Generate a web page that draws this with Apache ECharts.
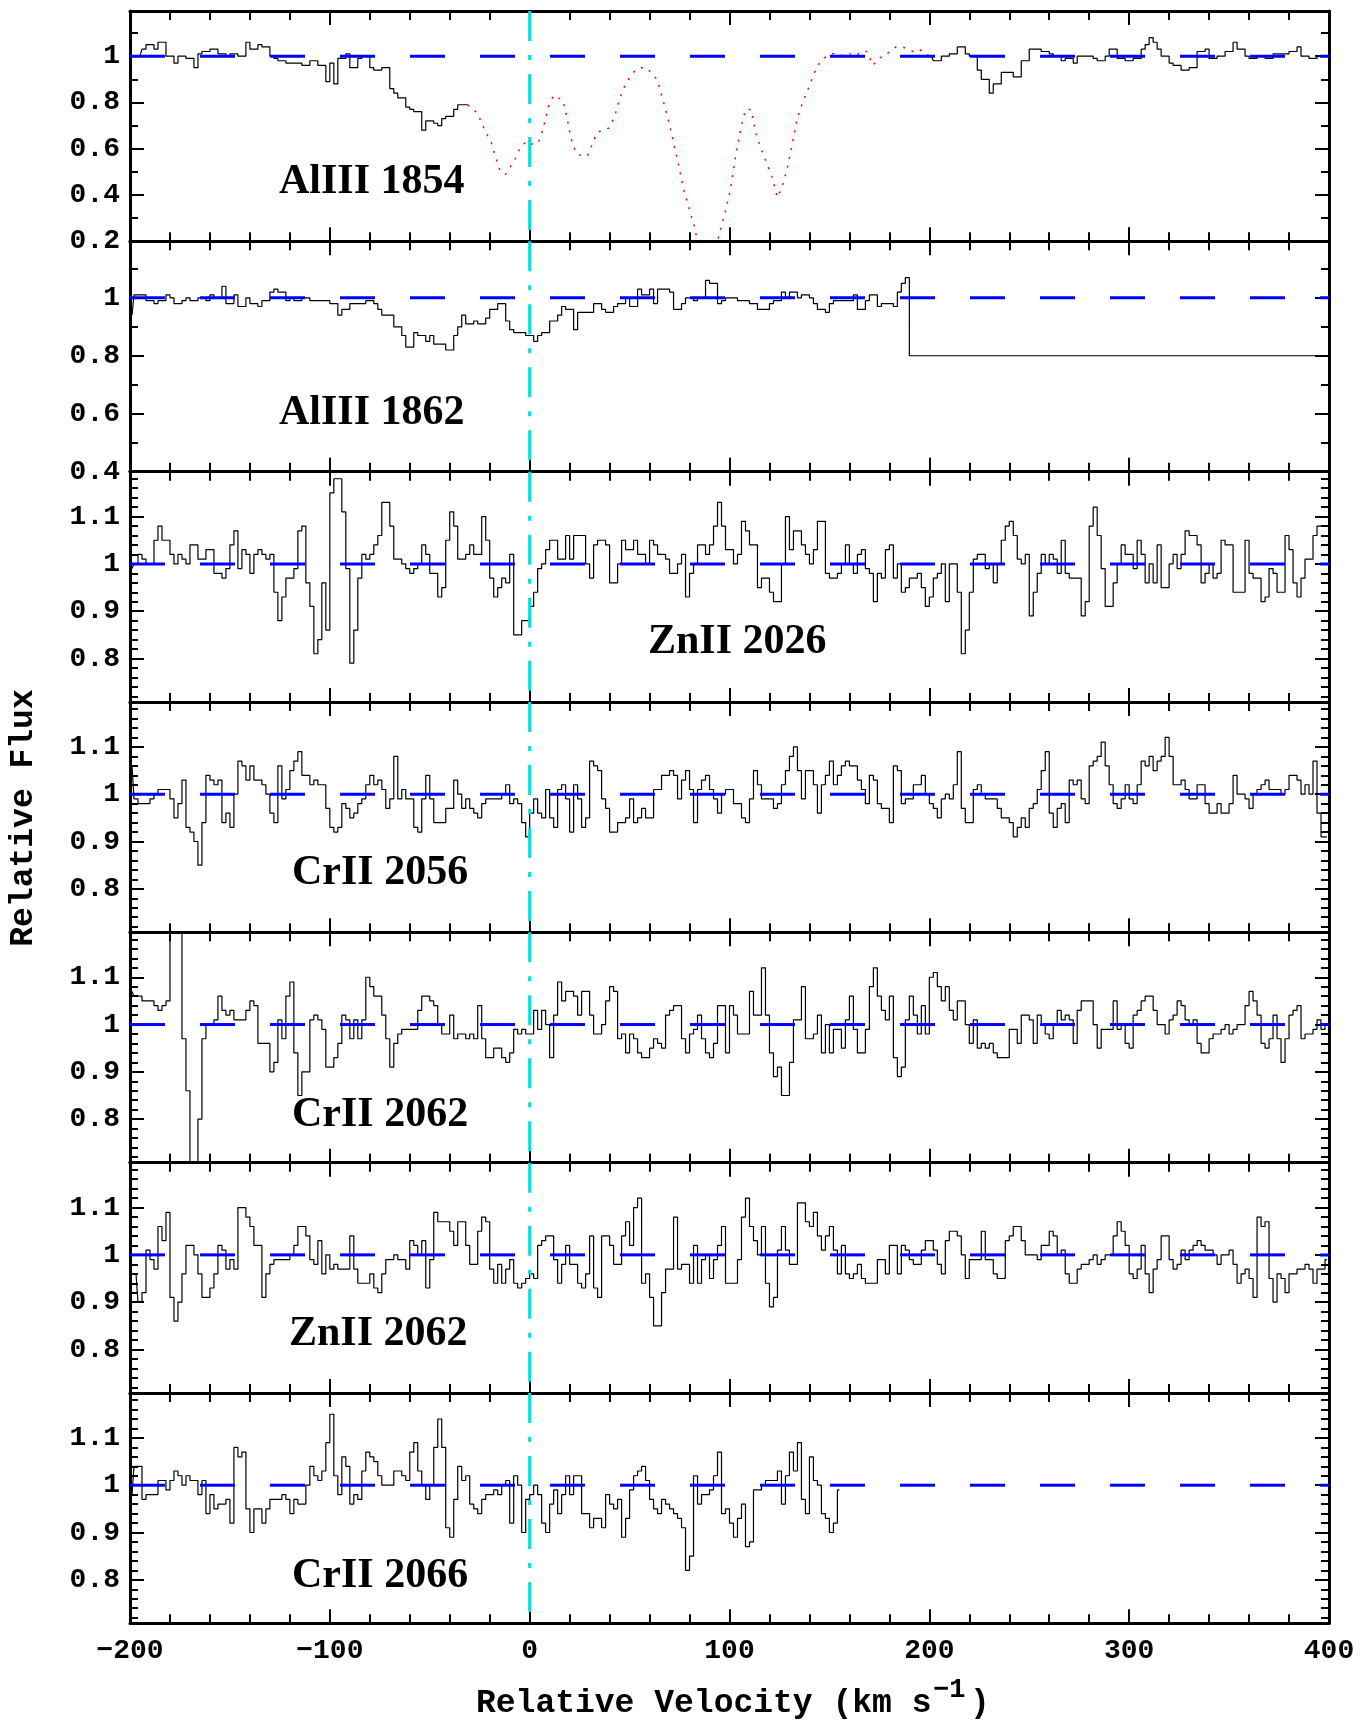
<!DOCTYPE html>
<html><head><meta charset="utf-8">
<script src="https://cdn.jsdelivr.net/npm/echarts@6/dist/echarts.min.js"></script>
<style>html,body{margin:0;padding:0;background:#fff}#c{width:1372px;height:1727px}</style>
</head><body><div id="c"></div>
<script>
// ---- data: relative flux in 2 km/s bins (bin centres start at binStart) ----
const binStart = -199, binWidth = 2;
const panelLabels = ['AlIII 1854','AlIII 1862','ZnII 2026','CrII 2056','CrII 2062','ZnII 2062','CrII 2066'];
const xTicks = [-200,-100,0,100,200,300,400];

const alIII1854Left = [1.00,1.00,1.00,1.03,1.05,1.05,1.03,1.06,1.06,1.00,
 1.00,0.97,1.00,1.00,0.99,0.99,0.95,1.01,1.02,1.02,
 1.03,1.03,1.01,1.01,1.00,1.01,1.01,1.00,1.00,1.06,
 1.03,1.03,1.05,1.04,1.04,1.00,0.99,0.98,0.98,0.97,
 0.97,0.97,0.97,0.96,0.96,0.98,0.98,0.96,0.96,0.89,
 0.97,0.88,0.99,0.99,1.01,0.95,0.95,0.99,1.00,1.00,
 0.95,0.94,0.94,0.95,0.95,0.86,0.84,0.82,0.82,0.78,
 0.77,0.76,0.76,0.68,0.72,0.72,0.71,0.70,0.73,0.74,
 0.74,0.77,0.79,0.79,0.79];
const alIII1854RightStart = 201;
const alIII1854Right = [1.00,0.98,0.98,1.00,1.00,1.01,1.01,1.04,1.04,1.01,
 1.00,1.00,0.94,0.90,0.90,0.84,0.88,0.88,0.93,0.93,
 0.93,0.91,0.91,0.98,0.98,1.03,1.03,1.03,1.02,1.02,
 1.01,1.00,1.00,0.98,0.99,0.99,0.97,1.00,1.00,1.00,
 1.00,0.99,0.98,0.98,1.00,1.03,1.03,0.99,0.99,0.98,
 0.98,0.99,0.99,1.03,1.05,1.08,1.06,1.03,1.00,1.00,
 0.97,0.96,0.96,0.94,0.94,0.95,0.95,1.02,1.02,1.03,
 0.99,0.99,1.00,1.00,1.02,1.02,1.06,1.03,1.03,1.00,
 0.99,0.99,1.00,1.00,0.99,0.99,1.01,1.01,1.01,1.01,
 1.02,1.02,1.04,1.00,1.00,0.99,0.99,1.00,1.00,1.00];
// blended region drawn dotted: [velocity, flux]
const alIII1854Blend = [[-31,0.79],[-27,0.76],[-24.3,0.72],[-22,0.67],[-19.3,0.63],[-16.6,0.55],[-14.6,0.50],[-12,0.49],
 [-7.6,0.55],[-5,0.60],[-1.9,0.63],[0.8,0.62],[3.9,0.62],[5.8,0.66],[7.7,0.72],[9.7,0.79],[12,0.83],[14.3,0.82],
 [16.6,0.81],[18.6,0.74],[20.5,0.65],[23.2,0.58],[25.9,0.57],[29,0.57],[30.9,0.61],[33.6,0.67],[36.6,0.68],
 [39.8,0.69],[42.5,0.74],[45.2,0.82],[47.5,0.87],[50.2,0.91],[52.9,0.94],[56,0.95],[58.3,0.95],[60.6,0.93],
 [63.7,0.90],[66.4,0.82],[69.5,0.72],[72.2,0.62],[74.5,0.53],[77.2,0.42],[79.9,0.34],[82.2,0.27],[83.8,0.21],
 [86.8,0.15],[90.7,0.15],[94.6,0.22],[97.7,0.32],[100.4,0.42],[103.1,0.57],[106.2,0.71],[108.1,0.77],[110.8,0.77],
 [113.1,0.67],[115.8,0.60],[118.5,0.54],[121.6,0.47],[123.9,0.39],[126.2,0.43],[129.3,0.53],[131.6,0.63],
 [133.9,0.73],[136.2,0.79],[138.5,0.84],[140.8,0.89],[143.5,0.95],[145.9,0.98],[148.6,1.00],[151.7,1.01],
 [154.4,1.01],[157.1,1.00],[160.2,1.01],[162.9,1.00],[166,1.02],[168.7,1.02],[171.8,0.96],[174.5,0.99],
 [177.2,1.00],[180.3,1.02],[183.4,1.04],[186.5,1.04],[189.2,1.03],[191.9,1.02],[195,1.03],[197.7,1.01],[200.8,1.00]];

const alIII1862 = [0.94,1.01,1.01,1.01,0.99,0.99,0.98,0.99,0.99,1.01,
 1.00,0.98,0.98,0.99,1.00,0.99,0.99,1.00,1.00,0.99,
 1.01,1.00,1.00,1.04,0.98,0.98,1.01,0.97,0.97,1.00,
 0.98,0.98,0.97,0.99,0.99,1.02,1.03,1.02,1.02,0.99,
 1.00,0.99,0.99,1.00,1.00,0.99,0.99,0.99,0.99,0.99,
 0.98,0.98,0.94,0.96,0.96,0.98,0.98,0.98,0.98,0.99,
 0.99,0.98,0.96,0.94,0.94,0.94,0.90,0.90,0.87,0.83,
 0.83,0.88,0.87,0.87,0.85,0.87,0.84,0.84,0.84,0.82,
 0.82,0.87,0.90,0.94,0.91,0.91,0.92,0.91,0.91,0.93,
 0.96,0.96,0.98,0.98,0.92,0.89,0.88,0.88,0.88,0.87,
 0.87,0.85,0.87,0.88,0.88,0.92,0.92,0.94,0.97,0.96,
 0.96,0.89,0.95,0.95,0.95,0.95,0.98,0.98,0.96,0.95,
 0.95,0.97,0.98,0.98,1.00,0.97,0.97,1.03,1.01,1.01,
 1.03,0.98,1.03,1.03,1.03,1.02,0.96,0.96,0.98,1.00,
 1.00,0.99,1.00,1.00,1.06,1.05,1.05,0.98,0.99,1.00,
 1.00,1.00,0.99,0.99,0.99,0.98,0.98,0.96,0.96,0.96,
 0.98,0.99,0.99,1.02,1.00,1.02,1.02,1.00,1.01,1.01,
 1.00,0.98,0.96,0.96,0.95,0.98,0.99,0.99,0.99,0.99,
 0.99,1.01,0.96,0.96,0.99,1.01,1.01,0.97,0.98,0.98,
 0.98,0.97,1.02,1.05,1.07];
const alIII1862Tail = [[191,0.80],[400,0.80]];

const znII2026 = [0.99,1.00,1.02,1.01,1.00,1.00,1.05,1.08,1.05,1.05,
 1.02,1.00,1.02,1.01,1.00,1.04,1.04,1.01,1.01,1.03,
 1.03,0.98,0.98,0.97,0.99,1.04,1.07,0.99,1.03,1.02,
 0.98,1.02,1.03,1.02,1.01,1.02,0.94,0.88,0.93,0.97,
 0.97,0.99,1.07,1.08,0.96,0.91,0.81,0.84,0.96,0.86,
 1.15,1.18,1.18,1.11,0.99,0.79,0.86,0.97,1.02,1.01,
 1.02,1.04,1.06,1.13,1.13,1.08,1.01,1.01,1.00,0.99,
 0.98,0.99,1.00,1.04,1.02,0.98,0.98,0.93,0.95,1.05,
 1.11,1.08,1.01,1.01,1.02,1.04,1.02,1.02,1.10,1.05,
 0.97,0.93,0.95,0.97,0.96,1.02,0.85,0.85,0.88,0.88,
 0.91,0.94,0.99,1.00,1.03,1.05,1.05,1.01,1.01,1.06,
 1.01,1.06,1.06,1.06,1.00,0.97,1.04,1.05,1.05,1.04,
 0.96,0.96,1.00,1.05,1.03,1.03,1.05,1.02,1.02,1.00,
 1.05,1.04,1.02,1.02,1.01,0.98,0.98,1.00,1.02,0.93,
 0.98,1.00,1.04,1.04,1.02,1.04,1.08,1.13,1.08,1.03,
 1.03,1.00,1.02,1.09,1.07,1.04,1.04,0.95,0.97,0.97,
 0.94,0.92,0.92,1.00,1.10,1.03,1.07,1.07,1.04,1.02,
 1.00,1.03,1.09,1.09,0.98,0.97,0.97,0.98,1.00,1.04,
 1.00,0.98,1.02,1.03,0.99,0.98,0.92,0.98,0.97,1.03,
 1.04,0.97,1.00,0.94,0.95,0.97,0.97,0.98,0.95,0.91,
 0.93,0.97,0.98,1.00,0.92,1.00,1.00,0.94,0.81,0.86,
 0.94,1.01,1.02,1.02,0.99,1.00,0.96,1.00,1.05,1.08,
 1.09,1.06,1.01,1.00,1.02,0.89,0.94,0.98,1.02,1.00,
 1.02,1.01,0.98,1.05,0.98,0.97,0.97,0.97,0.89,0.92,
 1.08,1.12,1.06,0.99,0.91,0.91,0.96,1.00,1.04,1.02,
 1.02,0.99,1.05,1.02,0.96,1.00,0.96,1.04,0.95,0.95,
 1.00,1.02,0.99,1.02,1.07,1.06,1.06,1.04,0.96,0.98,
 1.00,0.97,0.98,1.05,1.04,1.04,0.94,0.94,0.94,1.05,
 0.98,0.97,0.97,0.92,0.93,0.99,0.98,0.94,0.94,1.06,
 1.03,0.96,0.93,0.97,1.01,1.01,1.06,1.08,1.08,1.08];

const crII2056 = [1.06,0.99,0.98,0.98,0.98,0.99,1.00,1.01,1.01,1.01,
 0.99,0.95,0.98,1.03,0.93,0.92,0.90,0.85,0.94,1.04,
 1.03,1.02,1.03,0.94,0.96,0.93,1.00,1.07,1.06,1.03,
 1.06,1.03,1.03,1.02,1.00,0.96,0.94,1.06,0.99,1.01,
 1.05,1.07,1.09,1.04,1.04,1.02,1.03,1.02,1.02,0.97,
 0.93,0.92,0.93,0.98,0.97,0.95,0.96,0.98,0.99,1.02,
 1.04,1.02,1.03,1.01,0.97,0.99,1.08,0.99,1.01,0.99,
 0.99,0.93,0.92,0.99,1.04,0.99,0.94,0.94,0.94,0.97,
 0.97,1.03,1.00,0.97,0.99,0.97,0.96,0.95,0.98,0.99,
 0.99,0.99,0.99,1.00,1.02,0.98,0.99,0.98,0.94,0.91,
 0.96,0.99,0.96,0.95,1.01,0.95,0.93,1.01,1.02,0.99,
 0.92,1.02,0.99,0.93,0.95,1.07,1.06,1.05,0.99,0.97,
 0.92,0.92,0.94,0.94,0.95,0.99,0.94,0.95,0.97,0.95,
 0.95,1.01,1.01,1.04,1.04,1.05,1.04,0.99,1.03,1.05,
 1.01,0.94,1.01,1.03,1.04,1.01,0.99,0.96,1.00,1.01,
 1.01,0.98,0.98,0.95,0.94,0.99,1.05,1.02,0.99,0.99,
 0.99,0.97,0.98,1.02,1.05,1.08,1.10,1.05,0.99,1.05,
 1.05,1.02,0.96,1.02,1.04,1.07,1.02,1.04,1.06,1.07,
 1.06,1.06,1.03,1.01,0.98,1.04,1.03,0.98,0.97,0.97,
 0.94,1.06,1.05,0.98,0.99,0.99,1.02,1.02,1.04,1.00,
 0.98,0.97,0.95,0.99,1.00,0.99,1.02,1.09,0.97,0.94,
 0.94,1.01,1.02,1.00,0.99,0.99,0.99,0.97,0.95,0.95,
 0.94,0.91,0.93,0.95,0.93,0.97,0.98,1.01,1.05,1.09,
 0.96,0.93,0.97,0.98,0.94,1.03,1.02,1.03,0.99,0.98,
 1.06,1.07,1.08,1.11,1.06,1.02,0.98,0.97,0.99,1.02,
 0.99,0.98,1.02,1.07,1.06,1.08,1.05,1.07,1.08,1.12,
 1.08,1.02,1.02,1.03,1.01,0.99,0.99,1.02,1.02,0.98,
 0.96,0.96,0.98,0.96,0.96,0.98,1.04,1.00,1.00,0.99,
 0.97,1.00,1.01,1.02,1.03,1.01,1.01,1.01,1.00,1.01,
 1.04,1.04,1.03,1.00,1.02,1.00,1.07,0.96,0.91,0.91];

const crII2062 = [1.07,1.06,1.06,1.05,1.05,1.05,1.04,1.03,1.04,1.05,
 1.25,1.25,1.25,0.97,0.86,0.60,0.60,0.80,0.97,1.00,
 1.00,1.01,1.06,1.03,1.02,1.03,1.01,1.01,1.01,1.03,
 1.05,1.04,0.96,0.96,0.96,0.90,0.92,1.01,0.97,1.06,
 1.09,0.94,0.85,0.90,0.90,1.01,1.02,1.01,0.99,0.91,
 0.91,0.93,0.96,1.02,1.01,0.97,1.01,0.97,1.01,1.10,
 1.08,1.06,1.06,1.02,0.97,0.91,0.96,0.98,0.99,0.99,
 0.99,0.99,1.03,1.06,1.06,1.05,1.04,1.00,0.98,0.98,
 1.02,0.97,0.98,0.98,0.97,0.98,0.97,1.04,0.97,0.93,
 0.93,0.95,0.95,0.93,0.92,0.94,0.99,0.98,0.99,0.98,
 0.98,1.03,0.99,1.03,1.00,0.93,1.02,1.09,1.05,1.07,
 1.07,1.06,1.02,1.07,1.07,1.02,0.98,0.98,1.00,1.05,
 1.08,1.07,0.97,0.98,0.94,0.98,0.97,0.94,0.93,0.93,
 0.95,0.97,0.96,0.95,1.02,1.03,1.04,1.04,0.97,0.94,
 0.98,0.99,1.02,0.97,0.94,0.93,0.96,1.04,1.04,0.94,
 1.04,1.02,0.98,0.98,0.98,1.07,1.02,1.02,1.12,1.02,
 0.94,0.89,0.91,0.85,0.85,0.92,1.01,1.01,1.08,0.97,
 0.97,0.98,1.02,0.94,1.00,0.94,0.99,0.99,0.95,1.01,
 1.06,0.99,0.94,0.94,0.99,1.08,1.12,1.06,1.03,1.01,
 1.06,0.93,0.89,0.91,1.01,1.06,1.02,0.98,1.04,0.98,
 1.10,1.11,1.08,1.05,1.08,1.03,1.01,1.05,1.05,1.00,
 0.96,1.01,0.95,0.96,0.95,0.96,0.94,0.93,0.93,0.93,
 0.99,0.99,0.96,1.02,1.02,1.01,0.96,1.02,1.00,0.98,
 0.97,1.00,1.03,1.01,1.02,1.01,0.96,1.03,1.05,1.05,
 1.05,1.00,0.95,0.99,0.99,0.99,1.05,0.99,1.00,0.96,
 0.95,1.02,1.03,1.05,1.06,1.06,1.03,1.00,1.00,0.98,
 1.01,1.02,1.05,1.04,1.01,1.00,1.01,0.96,0.94,0.94,
 0.97,0.98,0.98,0.99,1.00,0.98,0.99,1.00,1.00,1.04,
 1.07,1.05,1.02,0.96,0.95,0.97,1.02,0.97,0.92,0.97,
 1.02,1.03,1.04,0.97,0.98,0.98,0.99,1.01,0.99,1.00];

const znII2062 = [0.96,0.96,0.90,0.92,1.01,0.99,0.97,1.06,1.03,1.09,
 0.91,0.86,0.90,0.96,1.02,1.02,1.00,0.96,0.91,0.91,
 0.93,0.96,1.02,1.01,0.97,0.99,0.97,1.10,1.10,1.08,
 1.06,1.02,1.02,0.91,0.96,0.98,0.99,0.99,0.99,0.99,
 1.00,1.02,1.06,1.06,1.04,0.99,0.98,1.03,0.96,1.00,
 0.97,0.98,0.97,0.97,0.97,1.04,0.97,0.94,0.94,0.94,
 0.96,0.93,0.92,0.96,0.99,0.99,1.00,0.99,0.99,0.97,
 1.03,1.02,1.00,1.03,0.93,0.99,1.09,1.07,1.07,1.07,
 1.05,1.02,1.07,1.07,1.02,0.98,0.98,1.05,1.08,1.07,
 0.97,0.94,0.98,0.94,0.97,0.99,0.94,0.93,0.94,0.95,
 0.96,0.95,1.02,1.03,1.04,1.04,0.99,0.94,0.98,1.02,
 0.98,0.98,0.94,0.93,0.96,1.04,0.93,0.91,1.04,1.04,
 1.02,0.98,0.98,1.04,1.07,1.02,1.10,1.12,0.94,0.96,
 0.91,0.85,0.85,0.92,0.97,0.97,1.08,0.97,0.98,0.98,
 0.94,1.02,0.94,0.99,1.00,0.95,0.99,1.02,1.06,0.94,
 0.94,0.94,0.99,1.08,1.12,1.06,1.03,1.00,1.06,0.94,
 0.89,0.91,1.01,1.06,1.01,0.98,0.98,1.11,1.11,1.07,
 1.06,1.09,1.04,1.01,1.04,1.06,1.01,0.96,1.02,0.96,
 0.95,0.96,0.98,0.95,0.94,0.94,0.94,0.99,0.99,0.96,
 1.02,1.02,0.96,1.02,1.01,0.99,0.98,0.98,1.01,1.03,
 1.03,1.01,0.98,0.96,1.03,1.05,1.05,1.04,1.00,0.95,
 0.99,0.99,0.99,1.05,0.99,0.99,0.96,0.95,0.95,1.03,
 1.04,1.06,1.06,1.03,1.00,1.00,1.00,0.99,1.02,1.02,
 1.05,1.04,1.00,1.01,0.96,0.94,0.94,0.97,0.98,0.98,
 0.99,1.00,0.98,0.99,1.00,1.00,1.04,1.07,1.05,1.02,
 0.96,0.95,0.97,1.02,0.96,0.92,0.97,0.99,1.04,1.04,
 0.99,0.97,0.98,1.01,0.99,1.01,1.02,1.03,1.02,1.01,
 1.01,1.00,0.98,1.00,1.00,1.01,0.98,0.94,0.96,0.97,
 0.95,0.91,1.08,1.06,1.07,0.95,0.90,0.96,0.95,0.92,
 0.96,0.96,0.97,0.97,0.98,0.97,0.94,0.97,0.97,0.99];

const crII2066 = [0.98,1.04,1.04,0.97,0.98,0.98,0.98,1.01,1.01,0.99,
 1.01,1.03,1.02,1.00,1.02,1.01,1.01,0.98,1.01,0.94,
 0.98,0.95,0.96,0.96,0.97,0.92,1.08,1.06,1.07,0.95,
 0.90,0.95,0.95,0.92,0.95,0.97,0.97,0.97,0.98,0.97,
 0.94,0.97,0.96,0.96,1.00,1.04,1.02,1.01,1.03,1.09,
 1.15,1.02,0.98,1.06,1.04,0.96,0.98,0.97,1.03,1.07,
 1.06,1.05,1.02,1.00,1.00,1.00,1.03,1.03,1.02,1.01,
 1.07,1.09,1.03,1.00,0.97,1.00,1.08,1.14,1.08,0.91,
 0.89,0.97,1.04,1.01,1.02,0.96,0.95,0.94,0.97,0.98,
 0.98,0.99,0.98,1.00,1.01,0.92,1.02,1.00,0.90,0.97,
 0.98,1.00,0.98,0.92,0.90,0.96,0.99,0.94,0.98,1.02,
 0.98,1.02,1.02,0.94,0.94,0.91,0.93,0.93,0.91,0.98,
 0.96,0.95,0.97,0.89,0.93,0.99,1.02,1.03,1.04,1.01,
 0.97,0.95,0.94,0.97,0.96,0.95,0.94,0.93,0.91,0.82,
 0.85,1.02,0.96,0.98,0.98,0.99,1.02,1.07,0.94,0.95,
 0.92,0.89,0.93,0.96,0.87,0.88,0.99,0.99,1.00,1.01,
 1.01,1.01,1.03,0.96,1.02,1.07,1.03,1.09,0.97,0.94,
 1.06,1.01,1.00,0.94,0.93,0.90,0.92,0.99];

// ---- chart ----
const TICKFONT = '"Liberation Mono"';
const panels = [
  {min:0.2, max:1.195, major:[0.2,0.4,0.6,0.8,1], minor:[0.3,0.5,0.7,0.9,1.1]},
  {min:0.4, max:1.195, major:[0.4,0.6,0.8,1], minor:[0.5,0.7,0.9,1.1]},
];
const minorFine = [];
for (let k = 0; k < 25; k++) { const t = Math.round((0.72 + 0.02 * k) * 100) / 100; if (Math.round(t * 100) % 10 !== 0) minorFine.push(t); }
for (let p = 2; p < 7; p++) panels.push({min:0.708, max:1.195, major:[0.8,0.9,1,1.1], minor:minorFine});

function toPairs(arr, start) { return arr.map((f, i) => [start + i * binWidth, f]); }
const spectra = [
  null,
  toPairs(alIII1862, binStart).concat(alIII1862Tail),
  toPairs(znII2026, binStart),
  toPairs(crII2056, binStart),
  toPairs(crII2062, binStart),
  toPairs(znII2062, binStart),
  toPairs(crII2066, binStart)
];

const grids = [], xAxes = [], yAxes = [], series = [];
const blk = {color:'#000', width:3};
const tk = {color:'#000', width:2};
panels.forEach((pn, p) => {
  const top = 11 + 230.33 * p;
  grids.push({left:130, top:top, width:1199, height:230.33});
  ['bottom','top'].forEach(pos => {
    xAxes.push({gridIndex:p, type:'value', position:pos, min:-200, max:400, interval:100,
      axisLine:{show:true, onZero:false, lineStyle:blk},
      axisTick:{show:true, inside:true, length:14, lineStyle:tk},
      minorTick:{show:true, splitNumber:5, length:9, lineStyle:tk},
      axisLabel:{show: pos === 'bottom' && p === 6, margin:14, color:'#000', fontFamily:TICKFONT, fontSize:28, fontWeight:'bold',
        customValues: xTicks, formatter: v => v < 0 ? '\u2212' + (-v) : String(v)},
      splitLine:{show:false}, minorSplitLine:{show:false}});
  });
  ['left','right'].forEach(pos => {
    yAxes.push({gridIndex:p, type:'value', position:pos, min:pn.min, max:pn.max,
      axisLine:{show:true, onZero:false, lineStyle:blk},
      axisTick:{show:true, inside:true, length:14, customValues:pn.major, lineStyle:tk},
      axisLabel:{show: pos === 'left', customValues:pn.major, margin:10, color:'#000', fontFamily:TICKFONT, fontSize:28, fontWeight:'bold'},
      splitLine:{show:false}});
    yAxes.push({gridIndex:p, type:'value', position:pos, min:pn.min, max:pn.max,
      axisLine:{show:false, onZero:false},
      axisTick:{show:true, inside:true, length:8, customValues:pn.minor, lineStyle:tk},
      axisLabel:{show:false}, splitLine:{show:false}});
  });
  const xi = 2 * p, yi = 4 * p;
  const base = {type:'line', xAxisIndex:xi, yAxisIndex:yi, symbol:'none', silent:true, animation:false, clip:true};
  if (p === 0) {
    series.push(Object.assign({}, base, {step:'middle', data:toPairs(alIII1854Left, binStart), lineStyle:{color:'#000', width:1.2}, z:2}));
    series.push(Object.assign({}, base, {step:'middle', data:toPairs(alIII1854Right, alIII1854RightStart), lineStyle:{color:'#000', width:1.2}, z:2}));
    series.push(Object.assign({}, base, {data:alIII1854Blend, lineStyle:{color:'#ff0000', width:1.5, type:[2,7]}, z:2}));
  } else {
    series.push(Object.assign({}, base, {step:'middle', data:spectra[p], lineStyle:{color:'#000', width:1.2}, z:2}));
  }
  series.push(Object.assign({}, base, {data:[[-200,1],[400,1]], lineStyle:{color:'#0000ff', width:3, type:[35,35]}, z:3}));
  series.push(Object.assign({}, base, {data:[[0,pn.max],[0,pn.min]], lineStyle:{color:'#00dede', width:3, type:[30,14,5,14]}, z:4}));
});

const labelPos = [[279,182],[279,413],[648,642],[292,873],[292,1115],[289,1334],[292,1576]];
const graphic = panelLabels.map((t, i) => ({type:'text', x:labelPos[i][0], y:labelPos[i][1], z:10,
  style:{text:t, font:'bold 42px "Liberation Serif"', fill:'#000', align:'left', verticalAlign:'middle'}}));
graphic.push({type:'text', x:24, y:818, rotation:Math.PI/2, z:10,
  style:{text:'Relative Flux', font:'bold 33px ' + TICKFONT, fill:'#000', align:'center', verticalAlign:'middle'}});
graphic.push({type:'text', x:476, y:1704, z:10,
  style:{text:'Relative Velocity (km s', font:'bold 33px ' + TICKFONT, fill:'#000', align:'left', verticalAlign:'middle'}});
graphic.push({type:'text', x:933, y:1690, z:10,
  style:{text:'\u22121', font:'bold 27px ' + TICKFONT, fill:'#000', align:'left', verticalAlign:'middle'}});
graphic.push({type:'text', x:970, y:1704, z:10,
  style:{text:')', font:'bold 33px ' + TICKFONT, fill:'#000', align:'left', verticalAlign:'middle'}});

const chart = echarts.init(document.getElementById('c'), null, {renderer:'canvas'});
chart.setOption({animation:false, backgroundColor:'#fff', grid:grids, xAxis:xAxes, yAxis:yAxes, series:series, graphic:graphic});
</script></body></html>
